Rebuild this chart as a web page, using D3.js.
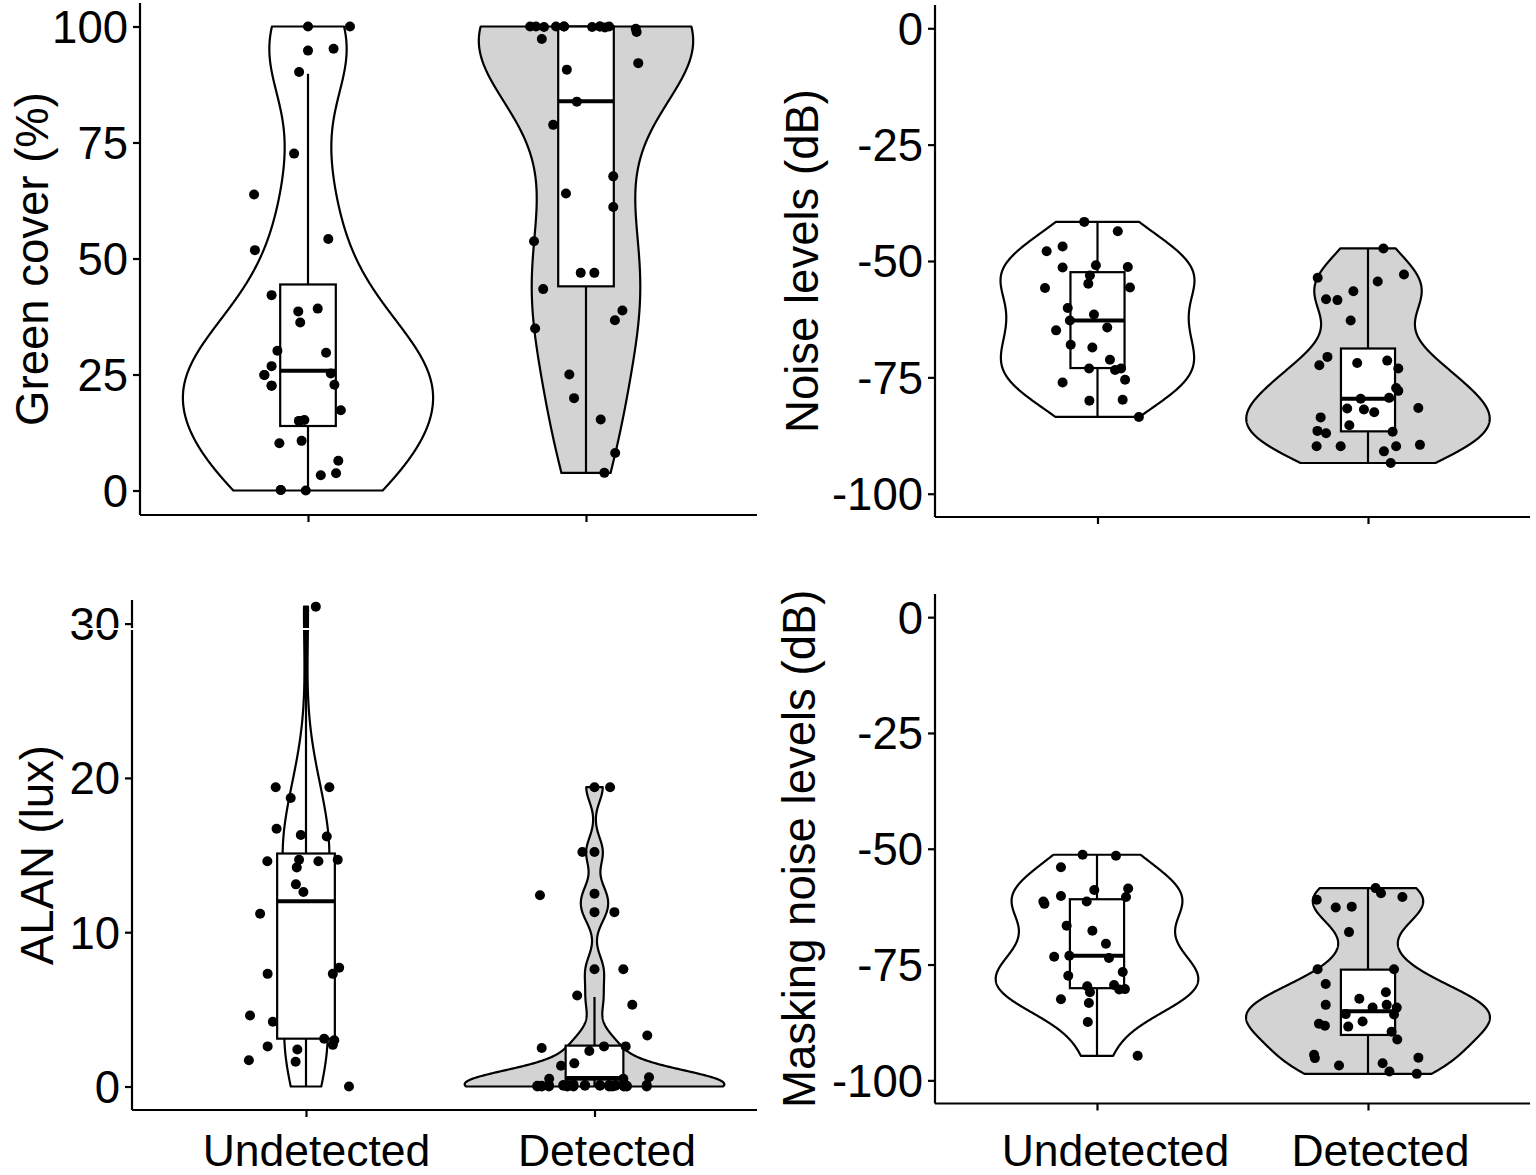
<!DOCTYPE html>
<html>
<head>
<meta charset="utf-8">
<script src="https://cdn.jsdelivr.net/npm/d3@7"></script>
<style>
  body { margin: 0; background: #fff; }
  svg { display: block; }
  text { font-family: "Liberation Sans", Arial, Helvetica, sans-serif; fill: #000; }
</style>
</head>
<body>
<svg id="chart" width="1536" height="1175"></svg>
<script>
// ---------------- DATA ----------------
const categories = ["Undetected", "Detected"];

// Green cover (%)  (last values of some groups sit exactly on top of visible points)
const greenUndetected = [100, 100, 94.8, 95.2, 90.2, 72.6, 63.8, 51.8, 54.2, 42.1, 38.6, 39.2, 36.2, 30.1, 29.7, 26.8, 24.9, 22.6, 25.2, 22.8, 17.3, 15.0, 15.2, 10.2, 10.7, 6.4, 3.7, 3.3, 0.1, 0,
  15.0, 22.6, 24.9, 0.1];
const greenUndetectedJitter = [0.00, 0.151, 0.00, 0.092, -0.032, -0.050, -0.194, -0.191, 0.073, -0.131, -0.035, 0.035, -0.028, -0.110, 0.065, -0.131, -0.157, -0.131, 0.082, 0.095, 0.118, -0.032, -0.013, -0.103, -0.023, 0.109, 0.101, 0.046, -0.098, -0.008,
  -0.032, -0.131, -0.157, -0.098];
const greenDetected = [100, 100, 99.9, 100, 100, 99.9, 100, 99.8, 100, 99.5, 98.8, 97.3, 90.7, 92.1, 83.8, 78.8, 67.7, 64.0, 61.1, 53.7, 46.9, 46.9, 43.4, 38.8, 36.7, 34.9, 25.0, 19.9, 15.3, 8.1, 3.8,
  100, 100];
const greenDetectedJitter = [-0.201, -0.180, -0.151, -0.108, -0.079, 0.022, 0.050, 0.068, 0.083, 0.179, 0.182, -0.159, -0.069, 0.188, -0.033, -0.118, 0.098, -0.072, 0.098, -0.187, -0.019, 0.030, -0.154, 0.131, 0.104, -0.183, -0.060, -0.043, 0.053, 0.105, 0.066,
  -0.079, 0.050];
// box stats: [lower whisker, Q1, median, Q3, upper whisker]
const greenBoxUndetected = [0, 13.9, 25.8, 44.4, 89.8];
const greenBoxDetected = [3.8, 44.0, 83.9, 100, 100];
const greenTicks = [0, 25, 50, 75, 100];

// Noise levels (dB)
const noiseUndetected = [-41.6, -43.6, -47.9, -46.9, -51.4, -50.9, -51.3, -53.1, -54.9, -55.7, -55.8, -60.1, -62.8, -61.5, -64.3, -64.9, -68.0, -68.6, -71.2, -73.1, -73.4, -73.1, -75.5, -76.1, -80.0, -79.8, -83.5];
const noiseUndetectedJitter = [-0.049, 0.075, -0.188, -0.129, -0.129, -0.006, 0.112, -0.028, -0.034, 0.120, -0.194, -0.110, -0.102, -0.013, 0.036, -0.153, -0.099, -0.019, 0.046, -0.031, 0.065, 0.087, 0.102, -0.129, -0.030, 0.093, 0.153];
const noiseDetected = [-47.3, -52.9, -54.4, -53.6, -56.5, -58.2, -58.4, -62.8, -70.6, -72.4, -71.9, -71.4, -73.1, -77.3, -77.9, -79.4, -79.6, -81.6, -81.7, -81.9, -82.5, -83.6, -85.3, -86.5, -87.0, -86.7, -89.8, -89.8, -89.8, -89.5, -90.9, -93.4];
const noiseDetectedJitter = [0.057, 0.133, 0.036, -0.186, -0.054, -0.155, -0.113, -0.064, -0.150, -0.180, -0.040, 0.071, 0.112, 0.104, 0.112, 0.078, -0.027, 0.186, -0.077, -0.015, 0.023, -0.175, -0.069, -0.187, -0.155, 0.091, -0.190, -0.101, 0.104, 0.192, 0.059, 0.084];
const noiseBoxUndetected = [-83.5, -73.0, -62.8, -52.4, -41.6];
const noiseBoxDetected = [-93.4, -86.6, -79.6, -68.8, -47.3];
const noiseTicks = [-100, -75, -50, -25, 0];

// ALAN (lux)
const alanUndetected = [31.1, 19.4, 19.4, 18.7, 16.7, 16.3, 16.2, 14.6, 14.7, 14.6, 14.7, 14.2, 13.1, 12.6, 11.2, 7.3, 7.3, 7.7, 4.6, 4.2, 3.1, 3.0, 2.7, 2.6, 2.4, 1.7, 1.6, 0.0];
const alanUndetectedJitter = [0.034, -0.105, 0.081, -0.053, -0.102, -0.018, 0.072, -0.134, -0.024, 0.043, 0.110, -0.032, -0.035, -0.009, -0.159, -0.133, 0.093, 0.115, -0.194, -0.115, 0.063, 0.098, 0.093, -0.133, -0.030, -0.198, -0.036, 0.149];
const alanDetected = [19.4, 19.4, 15.2, 15.2, 12.4, 12.5, 11.3, 11.3, 7.6, 7.6, 5.9, 5.3, 3.3, 2.5, 2.6, 2.6, 2.3, 1.5, 1.35, 0.5, 0.5, 0.6,
  0.0, 0.05, 0.0, 0.1, 0.0, 0.15, 0.05, 0.1, 0.0, 0.05, 0.1, 0.0, 0.05, 0.0,
  0.05, 0.0, 0.1, 0.05, 0.1, 0.0, 0.1, 0.05, 0.1, 0.0, 0.05, 0.1, 0.0, 0.1];
const alanDetectedJitter = [0.000, 0.054, -0.042, 0.000, -0.189, 0.000, 0.000, 0.069, 0.000, 0.100, -0.060, 0.131, 0.183, -0.183, 0.033, 0.108, -0.018, -0.070, -0.116, -0.157, 0.100, 0.189,
  -0.198, -0.183, -0.158, -0.108, -0.094, -0.073, -0.033, 0.019, 0.051, 0.062, 0.073, 0.102, 0.112, 0.181,
  -0.198, -0.183, -0.158, -0.108, -0.094, -0.073, -0.033, 0.019, 0.051, 0.062, 0.073, 0.102, 0.112, 0.181];
const alanBoxUndetected = [0, 3.1, 12.0, 15.1, 31.1];
const alanBoxDetected = [0, 0.45, 0.55, 2.65, 5.8];
const alanTicks = [0, 10, 20, 30];

// Masking noise levels (dB)
const maskUndetected = [-51.3, -51.5, -54.0, -58.9, -58.6, -60.4, -60.2, -61.4, -61.9, -61.4, -66.6, -67.7, -70.5, -73.3, -73.1, -73.6, -76.6, -77.4, -79.7, -79.4, -80.4, -80.3, -81.0, -82.5, -83.3, -87.4, -94.7];
const maskUndetectedJitter = [-0.053, 0.070, -0.133, -0.010, 0.115, 0.107, -0.133, -0.198, -0.194, -0.038, -0.112, -0.017, 0.033, -0.158, -0.102, 0.044, 0.095, -0.106, -0.036, 0.063, 0.082, 0.103, -0.026, -0.133, -0.030, -0.034, 0.150];
const maskDetected = [-58.5, -59.6, -60.4, -61.0, -62.7, -62.5, -68.0, -76.0, -76.0, -79.2, -82.4, -81.0, -83.7, -84.3, -83.7, -84.3, -85.7, -85.8, -87.3, -87.8, -88.2, -88.4, -89.5, -91.2, -94.5, -95.2, -96.8, -96.3, -95.1, -98.1, -98.6];
const maskDetectedJitter = [0.028, 0.048, 0.127, -0.189, -0.119, -0.060, -0.070, -0.186, 0.096, -0.156, -0.032, 0.066, -0.156, 0.017, 0.069, 0.106, -0.082, 0.096, -0.020, -0.181, -0.159, -0.073, 0.087, 0.108, -0.199, -0.196, -0.107, 0.054, 0.186, 0.079, 0.180];
const maskBoxUndetected = [-94.7, -80.1, -73.1, -60.9, -51.3];
const maskBoxDetected = [-98.6, -90.2, -85.1, -76.1, -58.5];
const maskTicks = [-100, -75, -50, -25, 0];

// ---------------- LAYOUT ----------------
const panels = [
  { title: "Green cover (%)", left: 140, right: 757, top: 3, bottom: 515, centers: [308, 586],
    domain: [-5.28, 105.06], ticks: greenTicks, titleX: 48, xLabels: false,
    values: [greenUndetected, greenDetected], jitter: [greenUndetectedJitter, greenDetectedJitter],
    boxes: [greenBoxUndetected, greenBoxDetected] },
  { title: "Noise levels (dB)", left: 935, right: 1530, top: 5, bottom: 517, centers: [1097.5, 1368],
    domain: [-105, 5], ticks: noiseTicks, titleX: 818, xLabels: false,
    values: [noiseUndetected, noiseDetected], jitter: [noiseUndetectedJitter, noiseDetectedJitter],
    boxes: [noiseBoxUndetected, noiseBoxDetected] },
  { title: "ALAN (lux)", left: 132, right: 757, top: 600, bottom: 1110, centers: [306, 594.5],
    domain: [-1.523, 31.53], ticks: alanTicks, titleX: 53, xLabels: true, labelShift: [10, 12],
    values: [alanUndetected, alanDetected], jitter: [alanUndetectedJitter, alanDetectedJitter],
    boxes: [alanBoxUndetected, alanBoxDetected] },
  { title: "Masking noise levels (dB)", left: 935, right: 1530, top: 594, bottom: 1103.5, centers: [1097, 1368],
    domain: [-105, 5], ticks: maskTicks, titleX: 815, xLabels: true, labelShift: [18, 12],
    values: [maskUndetected, maskDetected], jitter: [maskUndetectedJitter, maskDetectedJitter],
    boxes: [maskBoxUndetected, maskBoxDetected] }
];

const fills = ["#ffffff", "#d3d3d3"];
const FONT_TITLE = 45.5, FONT_TICK = 45.5, FONT_XLAB = 44.5;
const LW = 2.2;
const svg = d3.select("#chart");

// R-like nrd0 bandwidth
function bwNrd0(x) {
  const s = d3.deviation(x);
  const sorted = x.slice().sort(d3.ascending);
  const iqr = d3.quantileSorted(sorted, 0.75) - d3.quantileSorted(sorted, 0.25);
  let lo = Math.min(s, iqr / 1.34);
  if (!lo) lo = s || Math.abs(x[0]) || 1;
  return 0.9 * lo * Math.pow(x.length, -0.2);
}
function kde(x, npts = 512) {
  const bw = bwNrd0(x);
  const [mn, mx] = d3.extent(x);
  const out = [];
  const k = 1 / (x.length * bw * Math.sqrt(2 * Math.PI));
  for (let i = 0; i < npts; i++) {
    const y = mn + (mx - mn) * i / (npts - 1);
    let d = 0;
    for (const xi of x) { const u = (y - xi) / bw; d += Math.exp(-0.5 * u * u); }
    out.push({ y, d: d * k });
  }
  return out;
}

panels.forEach(p => {
  const g = svg.append("g");
  const yScale = d3.scaleLinear().domain(p.domain).range([p.bottom, p.top]);
  const xScale = d3.scalePoint().domain(categories).range(p.centers).padding(0);
  const step = p.centers[1] - p.centers[0];
  const halfMax = 0.45 * step;
  const boxHalf = 0.1 * step;

  // densities (scale = "area": shared max across the panel)
  const dens = p.values.map(v => kde(v));
  const maxD = d3.max(dens, ds => d3.max(ds, d => d.d));

  // violins
  categories.forEach((c, i) => {
    const cx = xScale(c);
    const ds = dens[i];
    const pts = [];
    ds.forEach(d => pts.push([cx - halfMax * d.d / maxD, yScale(d.y)]));
    for (let j = ds.length - 1; j >= 0; j--) pts.push([cx + halfMax * ds[j].d / maxD, yScale(ds[j].y)]);
    g.append("path")
      .attr("d", d3.line()(pts) + "Z")
      .attr("fill", fills[i])
      .attr("stroke", "#000")
      .attr("stroke-width", LW)
      .attr("stroke-linejoin", "round");
  });

  // boxplots
  categories.forEach((c, i) => {
    const cx = xScale(c);
    const [lw, q1, med, q3, uw] = p.boxes[i];
    g.append("line").attr("x1", cx).attr("x2", cx).attr("y1", yScale(q3)).attr("y2", yScale(uw))
      .attr("stroke", "#000").attr("stroke-width", LW);
    g.append("line").attr("x1", cx).attr("x2", cx).attr("y1", yScale(q1)).attr("y2", yScale(lw))
      .attr("stroke", "#000").attr("stroke-width", LW);
    g.append("rect").attr("x", cx - boxHalf).attr("width", 2 * boxHalf)
      .attr("y", yScale(q3)).attr("height", yScale(q1) - yScale(q3))
      .attr("fill", "#fff").attr("stroke", "#000").attr("stroke-width", LW);
    g.append("line").attr("x1", cx - boxHalf).attr("x2", cx + boxHalf)
      .attr("y1", yScale(med)).attr("y2", yScale(med))
      .attr("stroke", "#000").attr("stroke-width", 4);
  });

  // jittered points
  categories.forEach((c, i) => {
    const cx = xScale(c);
    g.append("g").selectAll("circle")
      .data(p.values[i].map((v, j) => ({ v, jx: p.jitter[i][j] })))
      .join("circle")
      .attr("cx", d => cx + d.jx * step)
      .attr("cy", d => yScale(d.v))
      .attr("r", 5)
      .attr("fill", "#000");
  });

  // axes
  const yAxis = d3.axisLeft(yScale).tickValues(p.ticks).tickSize(7).tickPadding(5).tickFormat(d => String(d));
  const ya = g.append("g").attr("transform", `translate(${p.left},0)`).call(yAxis);
  ya.select(".domain").attr("d", `M0,${p.top}V${p.bottom}`).attr("stroke-width", LW);
  ya.selectAll(".tick line").attr("stroke-width", LW);
  ya.selectAll(".tick text").attr("font-size", FONT_TICK).attr("font-family", "'Liberation Sans', Arial, sans-serif")
    .attr("fill", "#000").attr("dy", "0.35em");

  const xAxis = d3.axisBottom(xScale).tickSize(7).tickFormat(p.xLabels ? (d => d) : () => "");
  const xa = g.append("g").attr("transform", `translate(0,${p.bottom})`).call(xAxis);
  xa.select(".domain").attr("d", `M${p.left},0H${p.right}`).attr("stroke-width", LW);
  xa.selectAll(".tick line").attr("stroke-width", LW);
  xa.selectAll(".tick text").attr("font-size", FONT_XLAB).attr("font-family", "'Liberation Sans', Arial, sans-serif")
    .attr("fill", "#000").attr("y", 0).attr("dy", 0)
    .attr("transform", (d, i) => `translate(${p.labelShift ? p.labelShift[i] : 0},${1166 - p.bottom})`);

  // y title
  g.append("text")
    .attr("transform", `translate(${p.titleX},${(p.top + p.bottom) / 2}) rotate(-90)`)
    .attr("text-anchor", "middle")
    .attr("font-size", FONT_TITLE)
    .text(p.title);
});

// thin white break line crossing the ALAN panel near the 30 tick (as in the reference)
svg.append("rect").attr("x", 55).attr("y", 628).attr("width", 262).attr("height", 2).attr("fill", "#fff");
</script>
</body>
</html>
